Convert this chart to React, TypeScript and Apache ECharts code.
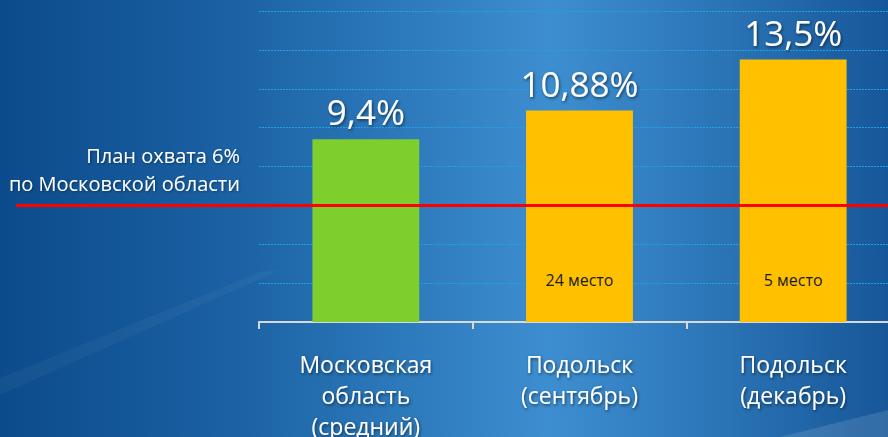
import React, { useEffect, useRef } from "react";
import * as echarts from "echarts";

const categories = ["Московская\nобласть\n(средний)", "Подольск\n(сентябрь)", "Подольск\n(декабрь)"];
const values = [9.4, 10.88, 13.5];
const valueLabels = ["9,4%", "10,88%", "13,5%"];
const ranks = ["", "24 место", "5 место"];
const barColors = ["#7ECE2E", "#FFC000", "#FFC000"];
const planValue = 6;
const planLabel = "План охвата 6%\nпо Московской области";
const yMin = 0;
const yMax = 16;
const yInterval = 2;

const FONT = "'Open Sans', 'Noto Sans', sans-serif";
const shadow = {
  textShadowColor: "rgba(0,0,0,0.55)",
  textShadowBlur: 3,
  textShadowOffsetX: 1,
  textShadowOffsetY: 1.5,
};

export default function App() {
  const ref = useRef<HTMLDivElement>(null);
  useEffect(() => {
    document.body.style.margin = "0";
    const chart = echarts.init(ref.current!, null, { renderer: "svg" });
    const option: any = {
      animation: false,
      backgroundColor: new echarts.graphic.LinearGradient(0, 0, 1, 0, [
        { offset: 0, color: "#0C4B8B" },
        { offset: 0.25, color: "#1A60A2" },
        { offset: 0.45, color: "#2C79BB" },
        { offset: 0.62, color: "#3D8ED0" },
        { offset: 0.8, color: "#2C76B8" },
        { offset: 1, color: "#175799" },
      ]),
      grid: {
        left: 259,
        top: 11,
        bottom: 115,
        width: 641,
        containLabel: false,
        outerBoundsMode: "none",
      },
      xAxis: {
        type: "category",
        data: categories,
        boundaryGap: true,
        axisLine: { show: true, lineStyle: { color: "#D9D9D9", width: 2 } },
        axisTick: { show: true, length: 7, lineStyle: { color: "#D9D9D9", width: 2 } },
        axisLabel: {
          color: "#FFFFFF",
          fontFamily: FONT,
          fontSize: 23,
          lineHeight: 31,
          margin: 26,
          ...shadow,
        },
        splitLine: { show: false },
      },
      yAxis: {
        type: "value",
        min: yMin,
        max: yMax,
        interval: yInterval,
        axisLabel: { show: false },
        axisLine: { show: false },
        axisTick: { show: false },
        splitLine: { show: true, lineStyle: { color: "#1BA3E6", width: 1, type: [2, 1] } },
      },
      series: [
        {
          type: "bar",
          barWidth: "50%",
          data: values.map((v, i) => ({ value: v, itemStyle: { color: barColors[i] } })),
          label: {
            show: true,
            position: "top",
            distance: 10,
            color: "#FFFFFF",
            fontFamily: FONT,
            fontSize: 35,
            formatter: (p: any) => valueLabels[p.dataIndex],
            ...shadow,
          },
          z: 2,
        },
        {
          type: "bar",
          barWidth: "50%",
          barGap: "-100%",
          silent: true,
          data: values,
          itemStyle: { color: "rgba(0,0,0,0)" },
          label: {
            show: true,
            position: "insideBottom",
            distance: 34,
            color: "#1A1A1A",
            fontFamily: FONT,
            fontSize: 16,
            formatter: (p: any) => ranks[p.dataIndex],
          },
          z: 3,
        },
      ],
    };
    chart.setOption(option);
    const yPlan = chart.convertToPixel({ yAxisIndex: 0 }, planValue) as number;
    chart.setOption({
      graphic: [
        {
          type: "polygon",
          silent: true,
          z: 0,
          shape: { points: [[0, 395], [0, 378], [260, 272], [280, 270]] },
          style: { fill: "rgba(255,255,255,0.035)" },
        },
        {
          type: "polygon",
          silent: true,
          z: 0,
          shape: { points: [[780, 437], [888, 410], [888, 437]] },
          style: { fill: "rgba(255,255,255,0.12)" },
        },
        {
          type: "line",
          silent: true,
          z: 100,
          shape: { x1: 16, y1: yPlan, x2: 888, y2: yPlan },
          style: { stroke: "#FF0000", lineWidth: 3 },
        },
        {
          type: "text",
          silent: true,
          z: 100,
          x: 240,
          y: 169,
          style: {
            text: planLabel,
            fill: "#FFFFFF",
            fontFamily: FONT,
            fontSize: 20,
            lineHeight: 28,
            align: "right",
            verticalAlign: "middle",
            textShadowColor: "rgba(0,0,0,0.4)",
            textShadowBlur: 2,
            textShadowOffsetX: 1,
            textShadowOffsetY: 1,
          },
        },
      ],
    });
    return () => chart.dispose();
  }, []);
  return (
    <div
      ref={ref}
      style={{ position: "absolute", left: 0, top: 0, width: 888, height: 437 }}
    />
  );
}
